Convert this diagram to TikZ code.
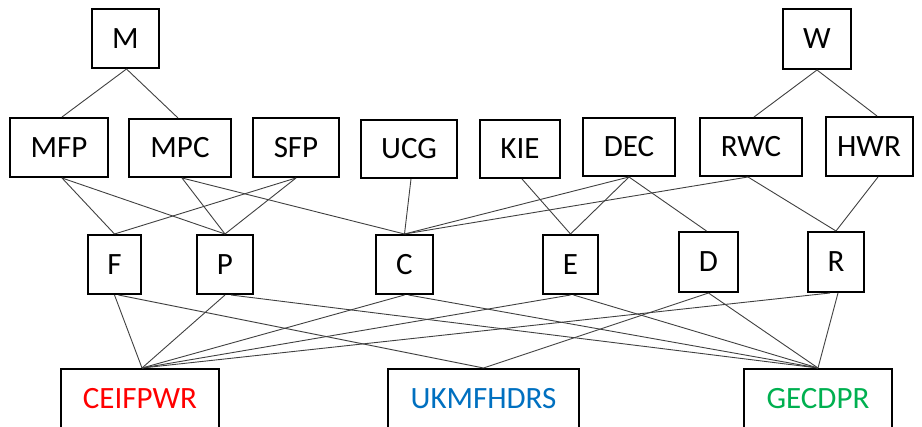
\documentclass[tikz,border=0pt]{standalone}
\usepackage{fontspec}
\setmainfont{Carlito}
\definecolor{linkgray}{HTML}{404040}
\definecolor{setred}{HTML}{FF0000}
\definecolor{setblue}{HTML}{0070C0}
\definecolor{setgreen}{HTML}{00B050}
\begin{document}
\begin{tikzpicture}[x=1pt,y=-1pt,
  box/.style={draw=black,line width=2pt,inner sep=0pt,
    font=\fontsize{31}{32}\selectfont},
  sz/.style 2 args={minimum width=#1pt,minimum height=#2pt},
  link/.style={draw=linkgray,line width=0.9pt}]
\useasboundingbox (0,0) rectangle (922,427);
\clip (0,0) rectangle (922,427);

% top level
\node[box,sz={67}{59}] (M) at (125.5,38.5) {M};
\node[box,sz={68}{60}] (W) at (817,39) {W};

% second level
\node[box,sz={98}{59}]  (MFP) at (59,147.5)  {MFP};
\node[box,sz={102}{58}] (MPC) at (180,148)   {MPC};
\node[box,sz={86}{59}]  (SFP) at (296,147.5) {SFP};
\node[box,sz={96}{58}]  (UCG) at (409,149)   {UCG};
\node[box,sz={80}{58}]  (KIE) at (520,149)   {KIE};
\node[box,sz={92}{58}]  (DEC) at (629,147)   {DEC};
\node[box,sz={102}{58}] (RWC) at (751,147)   {RWC};
\node[box,sz={87}{59}]  (HWR) at (869,146.5) {HWR};

% third level
\node[box,sz={53}{59}] (F) at (114.5,264.5) {F};
\node[box,sz={56}{59}] (P) at (225,264.5)   {P};
\node[box,sz={57}{59}] (C) at (404.5,264.5) {C};
\node[box,sz={55}{59}] (E) at (570.5,264.5) {E};
\node[box,sz={59}{60}] (D) at (708.5,262)   {D};
\node[box,sz={56}{60}] (R) at (836,262)     {R};

% result sets
\node[box,sz={158}{60},text=setred]   (CEI) at (140,399)   {CEIFPWR};
\node[box,sz={191}{60},text=setblue]  (UKM) at (483.5,399) {UKMFHDRS};
\node[box,sz={148}{60},text=setgreen] (GEC) at (818,399)   {GECDPR};

% first to second level
\draw[link] ([xshift=1pt]M.south) -- ([xshift=3pt]MFP.north);
\draw[link] ([xshift=1pt]M.south) -- ([xshift=-2pt]MPC.north);
\draw[link] (W.south) -- ([xshift=3pt]RWC.north);
\draw[link] (W.south) -- ([xshift=8pt]HWR.north);

% second to third level
\draw[link] ([xshift=3pt]MFP.south) -- (F.north);
\draw[link] ([xshift=3pt]MFP.south) -- (P.north);
\draw[link] ([xshift=2pt]MPC.south) -- (P.north);
\draw[link] ([xshift=2pt]MPC.south) -- (C.north);
\draw[link] (SFP.south) -- (F.north);
\draw[link] (SFP.south) -- (P.north);
\draw[link] ([xshift=2pt]UCG.south) -- (C.north);
\draw[link] ([xshift=2pt]KIE.south) -- (E.north);
\draw[link] (DEC.south) -- (C.north);
\draw[link] (DEC.south) -- (E.north);
\draw[link] (DEC.south) -- ([xshift=-2pt]D.north);
\draw[link] ([xshift=-3pt]RWC.south) -- (C.north);
\draw[link] ([xshift=-3pt]RWC.south) -- (R.north);
\draw[link] ([xshift=9pt]HWR.south) -- (R.north);

% third level to result sets
\draw[link] (F.south) -- ([xshift=2pt]CEI.north);
\draw[link] ([xshift=4pt]F.south) -- (UKM.north);
\draw[link] (P.south) -- ([xshift=2pt]CEI.north);
\draw[link] ([xshift=6pt]P.south) -- (GEC.north);
\draw[link] (C.south) -- ([xshift=2pt]CEI.north);
\draw[link] ([xshift=4pt]C.south) -- (GEC.north);
\draw[link] (E.south) -- ([xshift=2pt]CEI.north);
\draw[link] ([xshift=3pt]E.south) -- (GEC.north);
\draw[link] (D.south) -- (UKM.north);
\draw[link] (D.south) -- (GEC.north);
\draw[link] ([xshift=-6pt]R.south) -- ([xshift=2pt]CEI.north);
\draw[link] ([xshift=2pt]R.south) -- (GEC.north);
\end{tikzpicture}
\end{document}
